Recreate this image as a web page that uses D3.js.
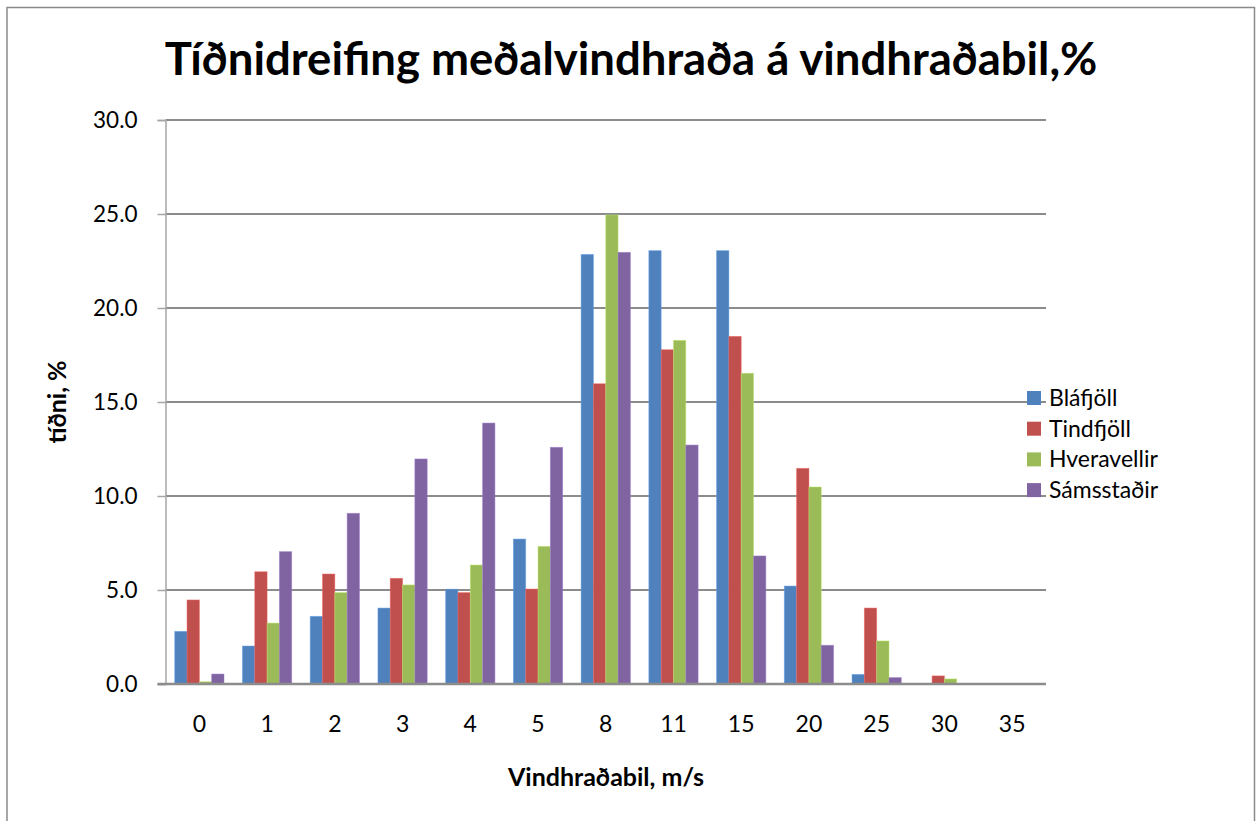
<!DOCTYPE html>
<html><head><meta charset="utf-8">
<script src="https://cdn.jsdelivr.net/npm/d3@7"></script>
<style>body{margin:0;background:#fff}svg{display:block;font-family:Lato,"Open Sans",sans-serif}</style>
</head><body><svg id="c" width="1256" height="821"></svg>
<script>
const categories = ["0","1","2","3","4","5","8","11","15","20","25","30","35"];
const seriesNames = ["Bláfjöll","Tindfjöll","Hveravellir","Sámsstaðir"];
const blafjoll   = [2.8, 2.02, 3.6, 4.04, 5.04, 7.71, 22.85, 23.05, 23.05, 5.21, 0.51, 0, 0];
const tindfjoll  = [4.47, 5.97, 5.85, 5.62, 4.86, 5.05, 15.97, 17.78, 18.49, 11.47, 4.04, 0.43, 0];
const hveravellir= [0.12, 3.24, 4.86, 5.27, 6.33, 7.32, 24.95, 18.28, 16.53, 10.48, 2.29, 0.27, 0];
const samsstadir = [0.53, 7.04, 9.08, 11.97, 13.88, 12.59, 22.96, 12.71, 6.81, 2.06, 0.34, 0, 0];
const yTicks = [0, 5, 10, 15, 20, 25, 30];
const colors = ["#4F81BD","#C0504D","#9BBB59","#8064A2"];
const title = "Tíðnidreifing meðalvindhraða á vindhraðabil,%";
const xTitle = "Vindhraðabil, m/s";
const yTitle = "tíðni, %";

const series = [blafjoll, tindfjoll, hveravellir, samsstadir];
const svg = d3.select("#c");
const L = 165.5, R = 1046, T = 120, B = 684;

// frame
svg.append("rect").attr("x",7).attr("y",7.5).attr("width",1247.5).attr("height",830)
  .attr("fill","none").attr("stroke","#8a8a8a").attr("stroke-width",1.5);

const x0 = d3.scaleBand().domain(categories).range([L, R]).padding(0);
const gap = x0.bandwidth()*0.75/5.5;
const x1 = d3.scaleBand().domain(d3.range(series.length)).range([gap, x0.bandwidth()-gap]).padding(0);
const y = d3.scaleLinear().domain([0,30]).range([B, T]);

// gridlines
svg.append("g").selectAll("line").data(yTicks.filter(d=>d>0)).join("line")
  .attr("x1",L).attr("x2",R).attr("y1",d=>y(d)).attr("y2",d=>y(d))
  .attr("stroke","#8c8c8c").attr("stroke-width",2);

// bars
const g = svg.append("g");
series.forEach((vals,si)=>{
  g.append("g").selectAll("rect").data(vals).join("rect")
    .attr("x",(d,i)=>x0(categories[i])+x1(si))
    .attr("width",x1.bandwidth())
    .attr("y",d=>y(d))
    .attr("height",d=>B-y(d))
    .attr("fill",colors[si])
    .attr("stroke",d3.color(colors[si]).brighter(0.6))
    .attr("stroke-opacity",0.6)
    .attr("stroke-width",d=>d>0?0.8:0);
});

// y axis
const yAxis = d3.axisLeft(y).tickValues(yTicks).tickFormat(d3.format(".1f")).tickSize(8).tickPadding(20);
const ya = svg.append("g").attr("transform",`translate(${L},0)`).call(yAxis);
ya.select(".domain").attr("stroke","#a6a6a6").attr("stroke-width",1.5);
ya.selectAll(".tick line").attr("stroke","#a6a6a6").attr("stroke-width",1.5);
ya.selectAll("text").attr("font-size",22.5).attr("fill","#000").attr("font-family","Lato");

// x axis
const xAxis = d3.axisBottom(x0).tickSize(0).tickPadding(32);
const xa = svg.append("g").attr("transform",`translate(0,${B})`).call(xAxis);
xa.select(".domain").remove();
xa.selectAll("text").attr("font-size",23).attr("fill","#000").attr("font-family","Lato");
svg.append("line").attr("x1",L-8).attr("x2",R).attr("y1",B).attr("y2",B)
  .attr("stroke","#8c8c8c").attr("stroke-width",2.5);

// title
const t = svg.append("text").attr("x",631).attr("y",75).attr("text-anchor","middle")
  .attr("font-size",42).attr("font-weight","bold").text(title);
const tw = t.node().getComputedTextLength();
t.attr("font-size",42*933/tw);

// axis titles
svg.append("text").attr("x",606).attr("y",786).attr("text-anchor","middle")
  .attr("font-size",25).attr("font-weight","bold").text(xTitle);
svg.append("text").attr("transform","translate(66,402) rotate(-90)").attr("text-anchor","middle")
  .attr("font-size",25).attr("font-weight","bold").text(yTitle);

// legend
const lg = svg.append("g").attr("transform","translate(1027,391)");
seriesNames.forEach((n,i)=>{
  const row = lg.append("g").attr("transform",`translate(0,${i*30.7})`);
  row.append("rect").attr("width",14).attr("height",14).attr("fill",colors[i]);
  row.append("text").attr("x",22).attr("y",7).attr("dy","0.35em").attr("font-size",23).text(n);
});
</script></body></html>
